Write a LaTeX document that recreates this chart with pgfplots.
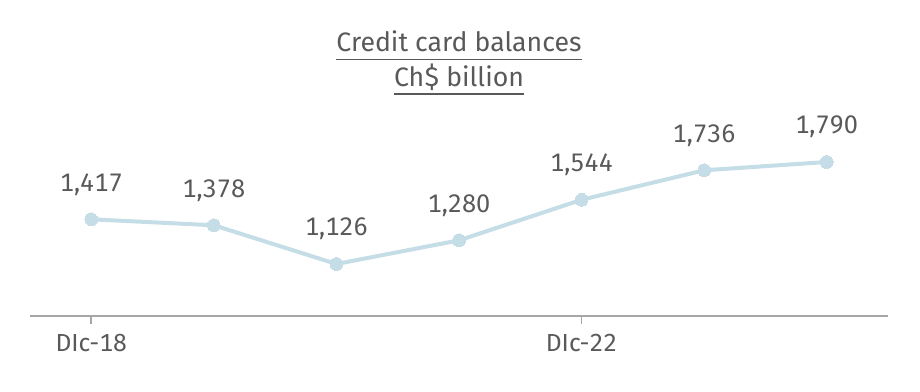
\documentclass[border=0pt]{standalone}
\usepackage{pgfplots}
\pgfplotsset{compat=1.18}
\usepackage{fontspec}
\setmainfont[Numbers=Monospaced]{Fira Sans}
\definecolor{txt}{HTML}{595959}
\definecolor{ln}{HTML}{C5DDE6}
\definecolor{ax}{HTML}{A6A6A6}
\begin{document}
\begin{tikzpicture}
\useasboundingbox (0,0) rectangle (690pt,294pt);
\node[anchor=base, inner sep=0pt, text=txt, font=\fontsize{20pt}{22pt}\selectfont] (t1) at (344.25pt,255pt) {Credit card balances};
\draw[txt, line width=0.9pt] ([yshift=-5.5pt]t1.base west) -- ([yshift=-5.5pt]t1.base east);
\node[anchor=base, inner sep=0pt, text=txt, font=\fontsize{20pt}{22pt}\selectfont] (t2) at (344.25pt,229pt) {Ch\$ billion};
\draw[txt, line width=0.9pt] ([yshift=-5.5pt]t2.base west) -- ([yshift=-5.5pt]t2.base east);
\begin{axis}[
  at={(22.5pt,57pt)}, anchor=south west,
  scale only axis, width=643.5pt, height=162pt,
  xmin=-0.5, xmax=6.5, ymin=787.5, ymax=2193.6,
  axis y line=none, axis x line*=bottom,
  axis line style={ax, line width=1.2pt, -},
  xtick={0,4}, xticklabels={DIc-18,DIc-22},
  major tick length=6pt,
  tick style={ax, line width=1.2pt},
  tick align=outside,
  xticklabel style={text=txt, font=\fontsize{18.5pt}{20pt}\selectfont, anchor=base, yshift=-21pt},
  /pgf/number format/.cd, 1000 sep={,}, assume math mode=true,
  /pgfplots/.cd,
  nodes near coords,
  every node near coord/.append style={text=txt, font=\fontsize{19pt}{21pt}\selectfont, anchor=base, yshift=21pt},
  clip=false,
]
\addplot[ln, line width=3pt, mark=*, mark size=4.8pt, mark options={fill=ln, draw=ln, line width=0pt}] coordinates {
(0,1417) (1,1378) (2,1126) (3,1280) (4,1544) (5,1736) (6,1790)
};
\end{axis}
\end{tikzpicture}
\end{document}
